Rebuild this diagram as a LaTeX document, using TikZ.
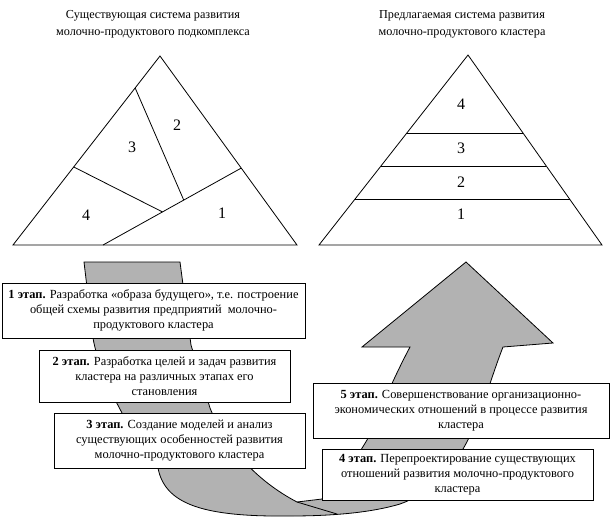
\documentclass[tikz,border=0pt]{standalone}
\usepackage{fontspec}
\setmainfont{Liberation Serif}
\usetikzlibrary{calc}
\definecolor{arrowgray}{RGB}{178,178,178}
\begin{document}
\begin{tikzpicture}[
        x=1pt, y=-1pt,
        line width=0.8pt,
        every node/.style={font=\fontsize{12.4}{14.8}\selectfont},
        title/.style={align=center, font=\fontsize{12.2}{17}\selectfont},
        num/.style={font=\fontsize{16}{18}\selectfont},
        stage/.style={draw, fill=white, align=center, inner sep=2pt},
        band/.style={fill=arrowgray, draw=black, line join=miter}
    ]
        \useasboundingbox (0,0) rectangle (610,517);

        % Заголовки
        \node[title] (tleft) at (153,24) {Существующая система развития\\молочно-продуктового подкомплекса};
        \node[title] (tright) at (462,24) {Предлагаемая система развития\\молочно-продуктового кластера};

        % Левый треугольник
        \coordinate (lA) at (160,56);
        \coordinate (lL) at (13,245);
        \coordinate (lR) at (297,245);
        \draw (lA) -- (lL) -- (lR) -- cycle;
        \coordinate (lb) at ($(lL)!0.317!(lR)$);
        \coordinate (lr) at ($(lA)!0.593!(lR)$);
        \draw (lb) -- (lr);
        \draw ($(lA)!0.169!(lL)$) -- ($(lb)!0.584!(lr)$);
        \draw ($(lA)!0.587!(lL)$) -- ($(lb)!0.43!(lr)$);
        \node[num] (l1) at (222,213) {1};
        \node[num] (l2) at (177,125) {2};
        \node[num] (l3) at (132,147) {3};
        \node[num] (l4) at (86,215) {4};

        % Правый треугольник
        \coordinate (rA) at (468,55);
        \coordinate (rL) at (319,245);
        \coordinate (rR) at (602,245);
        \draw (rA) -- (rL) -- (rR) -- cycle;
        \foreach \t in {0.41,0.584,0.758}
            \draw ($(rA)!\t!(rL)$) -- ($(rA)!\t!(rR)$);
        \node[num] (r1) at (461,214) {1};
        \node[num] (r2) at (461,182) {2};
        \node[num] (r3) at (461,148) {3};
        \node[num] (r4) at (461,104) {4};

        % Изогнутая стрелка
        \draw[band] (84,262) -- (180,262) -- (191,345) -- (210,408)
            .. controls (225,445) and (255,480) .. (297,502) -- (322,499)
            .. controls (345,475) and (355,460) .. (367,440)
            .. controls (380,410) and (395,375) .. (410,347)
            -- (362,347) -- (466,262) -- (553,343) -- (503,347)
            .. controls (490,380) and (480,420) .. (463,449)
            .. controls (445,480) and (420,497) .. (400,504)
            .. controls (370,513) and (330,516) .. (290,516)
            .. controls (205,517) and (165,505) .. (158,468)
            .. controls (135,440) and (100,380) .. (93,338) -- cycle;
        \draw (297,502) -- (337,514);

        % Этапы
        \node[stage, minimum width=303pt, minimum height=55pt] (s1) at (153.5,310.5)
            {\textbf{1 этап.} Разработка «образа будущего», т.е. построение\\общей схемы развития предприятий\ \ молочно-\\продуктового кластера};
        \node[stage, minimum width=251pt, minimum height=52pt] (s2) at (164.5,376)
            {\textbf{2 этап.} Разработка целей и задач развития\\кластера на различных этапах его\\становления};
        \node[stage, minimum width=251pt, minimum height=55pt] (s3) at (179.5,440.5)
            {\textbf{3 этап.} Создание моделей и анализ\\существующих особенностей развития\\молочно-продуктового кластера};
        \node[stage, minimum width=296pt, minimum height=55pt] (s5) at (461,410.5)
            {\textbf{5 этап.} Совершенствование организационно-\\экономических отношений в процессе развития\\кластера};
        \node[stage, minimum width=271pt, minimum height=51pt] (s4) at (457.5,474.5)
            {\textbf{4 этап.} Перепроектирование существующих\\отношений развития молочно-продуктового\\кластера};

    \end{tikzpicture}
\end{document}
